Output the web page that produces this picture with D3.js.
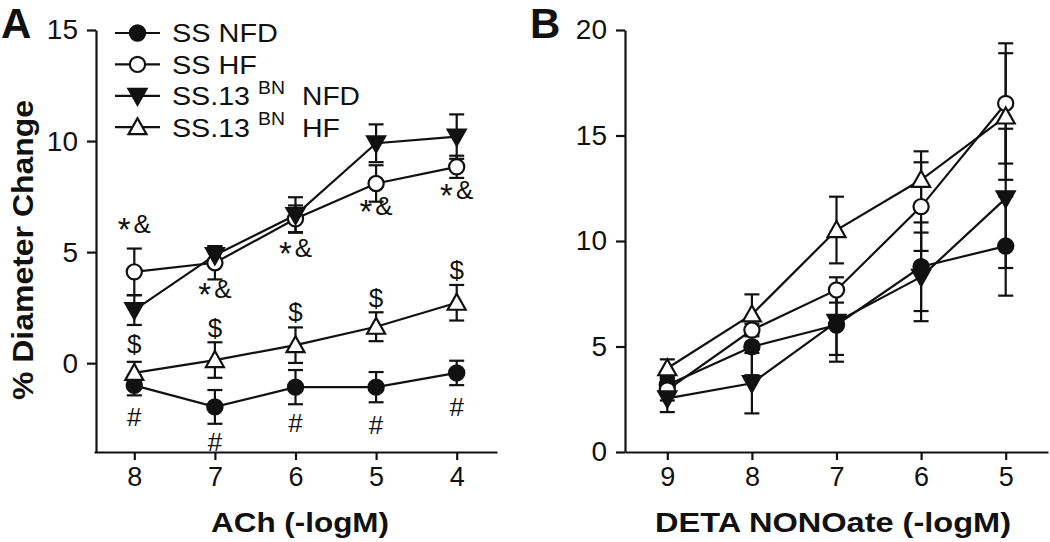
<!DOCTYPE html>
<html>
<head>
<meta charset="utf-8">
<script src="https://cdn.jsdelivr.net/npm/d3@7"></script>
<style>
  body { margin: 0; background: #fff; }
  svg { display: block; font-family: "Liberation Sans", Arial, sans-serif; }
  .axis path, .axis line { stroke: #111; stroke-width: 2.2; }
  .axis text { fill: #111; font-family: "Liberation Sans", Arial, sans-serif; }
  .y-axis text { font-size: 28px; }
  .x-axis text { font-size: 27px; }
</style>
</head>
<body>
<svg id="chart" width="1050" height="542"></svg>
<script>
// dose levels (-logM)
const achDoses = [8, 7, 6, 5, 4];
const detaDoses = [9, 8, 7, 6, 5];
const seriesNames = ['SS NFD', 'SS HF', 'SS.13 NFD', 'SS.13 HF'];
const seriesShapes = ['circle', 'circle', 'triDown', 'triUp'];
const seriesFilled = [true, false, true, false];

// panel A: ACh, % diameter change (mean, SEM)
const achSsNfd = [-1.0, -1.97, -1.08, -1.08, -0.44];
const achSsNfdSem = [0.45, 0.76, 0.77, 0.68, 0.55];
const achSsHf = [4.11, 4.52, 6.5, 8.09, 8.84];
const achSsHfSem = [1.05, 0.75, 0.6, 0.82, 0.5];
const achBnNfd = [2.39, 4.86, 6.67, 9.9, 10.2];
const achBnNfdSem = [0.67, 0.4, 0.8, 0.85, 1.0];
const achBnHf = [-0.44, 0.14, 0.81, 1.64, 2.72];
const achBnHfSem = [0.5, 0.8, 0.8, 0.65, 0.8];

// panel B: DETA NONOate
const detaSsNfd = [3.18, 4.99, 6.02, 8.78, 9.76];
const detaSsNfdSem = [0.3, 1.35, 1.74, 2.1, 2.35];
const detaSsHf = [2.94, 5.78, 7.68, 11.63, 16.52];
const detaSsHfSem = [0.5, 0.3, 0.6, 2.1, 2.85];
const detaBnNfd = [2.54, 3.26, 6.17, 8.3, 12.02];
const detaBnNfdSem = [0.65, 1.43, 1.57, 2.1, 3.3];
const detaBnHf = [3.97, 6.52, 10.52, 12.9, 15.9];
const detaBnHfSem = [0.42, 0.95, 1.58, 1.35, 3.0];

// significance marks in panel A (value level of each mark)
const starMarks = [5.85, 2.93, 4.79, 6.67, 7.39];
const dollarMarks = [0.9, 1.58, 2.3, 2.97, 4.19];
const hashMarks = [-2.43, -3.55, -2.7, -2.79, -1.94];

const achYTicks = [0, 5, 10, 15];
const detaYTicks = [0, 5, 10, 15, 20];

const svg = d3.select('#chart');

function markerPath(shape) {
    if (shape === 'triDown') return 'M-9,-7 L9,-7 L0,9 Z';
    if (shape === 'triUp') return 'M-9,7 L9,7 L0,-9 Z';
    return null;
}

function drawMarker(g, shape, filled, x, y) {
    let m;
    if (shape === 'circle') {
        m = g.append('circle').attr('cx', x).attr('cy', y).attr('r', 7.6);
    } else {
        m = g.append('path').attr('d', markerPath(shape))
            .attr('transform', `translate(${x},${y})`);
    }
    m.attr('fill', filled ? '#111' : '#fff')
        .attr('stroke', '#111')
        .attr('stroke-width', 2.2);
}

function drawPanel(cfg) {
    const x = d3.scaleLinear().domain(cfg.xDomain).range(cfg.xRange);
    const y = d3.scaleLinear().domain(cfg.yDomain).range([452, 30]);

    const g = svg.append('g');

    g.append('g')
        .attr('class', 'axis x-axis')
        .attr('transform', 'translate(0,452)')
        .call(d3.axisBottom(x).tickValues(cfg.doses).tickFormat(d3.format('d'))
            .tickSize(8).tickSizeOuter(0).tickPadding(7));
    g.append('g')
        .attr('class', 'axis y-axis')
        .attr('transform', `translate(${cfg.yAxisX},0)`)
        .call(d3.axisLeft(y).tickValues(cfg.yTicks).tickSize(9).tickSizeOuter(0).tickPadding(9));

    const line = d3.line().x((d, i) => x(cfg.doses[i])).y(d => y(d));

    // lines and error bars
    cfg.series.forEach(s => {
        g.append('path')
            .datum(s.mean)
            .attr('d', line)
            .attr('fill', 'none')
            .attr('stroke', '#111')
            .attr('stroke-width', 2.2);
        s.mean.forEach((m, i) => {
            const cx = x(cfg.doses[i]);
            const top = y(m + s.sem[i]), bot = y(m - s.sem[i]);
            g.append('line').attr('x1', cx).attr('x2', cx).attr('y1', top).attr('y2', bot)
                .attr('stroke', '#111').attr('stroke-width', 2.2);
            [top, bot].forEach(v => {
                g.append('line').attr('x1', cx - 7.5).attr('x2', cx + 7.5).attr('y1', v).attr('y2', v)
                    .attr('stroke', '#111').attr('stroke-width', 2.2);
            });
        });
    });

    // markers
    cfg.series.forEach((s, k) => {
        s.mean.forEach((m, i) => {
            drawMarker(g, seriesShapes[k], seriesFilled[k], x(cfg.doses[i]), y(m));
        });
    });

    // annotations
    if (cfg.marks) {
        cfg.marks.forEach(mk => {
            mk.levels.forEach((v, i) => {
                const t = g.append('text')
                    .attr('x', x(cfg.doses[i]))
                    .attr('y', y(v))
                    .attr('dy', '0.36em')
                    .attr('text-anchor', 'middle')
                    .style('font-size', '26px')
                    .attr('fill', '#111');
                if (mk.label === '*&') {
                    t.append('tspan').style('font-size', '33px').attr('dy', 8).text('*');
                    t.append('tspan').attr('dx', 3).attr('dy', -8).text('&');
                } else {
                    t.text(mk.label);
                }
            });
        });
    }

    // x title
    g.append('text')
        .attr('x', cfg.titleX)
        .attr('y', 532)
        .attr('text-anchor', 'middle')
        .attr('textLength', cfg.titleLen)
        .attr('lengthAdjust', 'spacingAndGlyphs')
        .style('font-size', '28px')
        .style('font-weight', 'bold')
        .attr('fill', '#111')
        .text(cfg.xTitle);

    // panel letter
    g.append('text')
        .attr('x', cfg.letterX)
        .attr('y', 38)
        .style('font-size', '42px')
        .style('font-weight', 'bold')
        .attr('fill', '#111')
        .text(cfg.letter);
}

drawPanel({
    doses: achDoses,
    xDomain: [8.5, 3.5], xRange: [94, 497],
    yDomain: [-4, 15], yTicks: achYTicks, yAxisX: 96,
    series: [
        {mean: achSsNfd, sem: achSsNfdSem},
        {mean: achSsHf, sem: achSsHfSem},
        {mean: achBnNfd, sem: achBnNfdSem},
        {mean: achBnHf, sem: achBnHfSem}
    ],
    marks: [
        {label: '*&', levels: starMarks},
        {label: '$', levels: dollarMarks},
        {label: '#', levels: hashMarks}
    ],
    xTitle: 'ACh (-logM)', titleX: 300, titleLen: 178,
    letter: 'A', letterX: 1
});

drawPanel({
    doses: detaDoses,
    xDomain: [9.5, 4.5], xRange: [625, 1048],
    yDomain: [0, 20], yTicks: detaYTicks, yAxisX: 625,
    series: [
        {mean: detaSsNfd, sem: detaSsNfdSem},
        {mean: detaSsHf, sem: detaSsHfSem},
        {mean: detaBnNfd, sem: detaBnNfdSem},
        {mean: detaBnHf, sem: detaBnHfSem}
    ],
    xTitle: 'DETA NONOate (-logM)', titleX: 833, titleLen: 356,
    letter: 'B', letterX: 530
});

// y title for panel A
svg.append('text')
    .attr('transform', 'translate(33,250) rotate(-90)')
    .attr('text-anchor', 'middle')
    .attr('textLength', 300)
    .attr('lengthAdjust', 'spacingAndGlyphs')
    .style('font-size', '30px')
    .style('font-weight', 'bold')
    .attr('fill', '#111')
    .text('% Diameter Change');

// legend
const legend = svg.append('g');
seriesNames.forEach((name, k) => {
    const ly = 33 + k * 31.4;
    legend.append('line').attr('x1', 115).attr('x2', 160).attr('y1', ly).attr('y2', ly)
        .attr('stroke', '#111').attr('stroke-width', 2.2);
    drawMarker(legend, seriesShapes[k], seriesFilled[k], 137.5, ly);
    const parts = name.split(' ');
    const addText = (x, str, len, size, dy) => legend.append('text')
        .attr('x', x).attr('y', ly).attr('dy', dy)
        .attr('textLength', len).attr('lengthAdjust', 'spacingAndGlyphs')
        .style('font-size', size).attr('fill', '#111').text(str);
    if (parts[0] === 'SS.13') {
        addText(172, 'SS.13', 78, '26px', '0.36em');
        addText(258, 'BN', 27, '18px', '-0.1em');
        addText(302, parts[1], parts[1] === 'NFD' ? 58 : 38, '26px', '0.36em');
    } else {
        addText(172, name, name === 'SS NFD' ? 106 : 85, '26px', '0.36em');
    }
});
</script>
</body>
</html>
